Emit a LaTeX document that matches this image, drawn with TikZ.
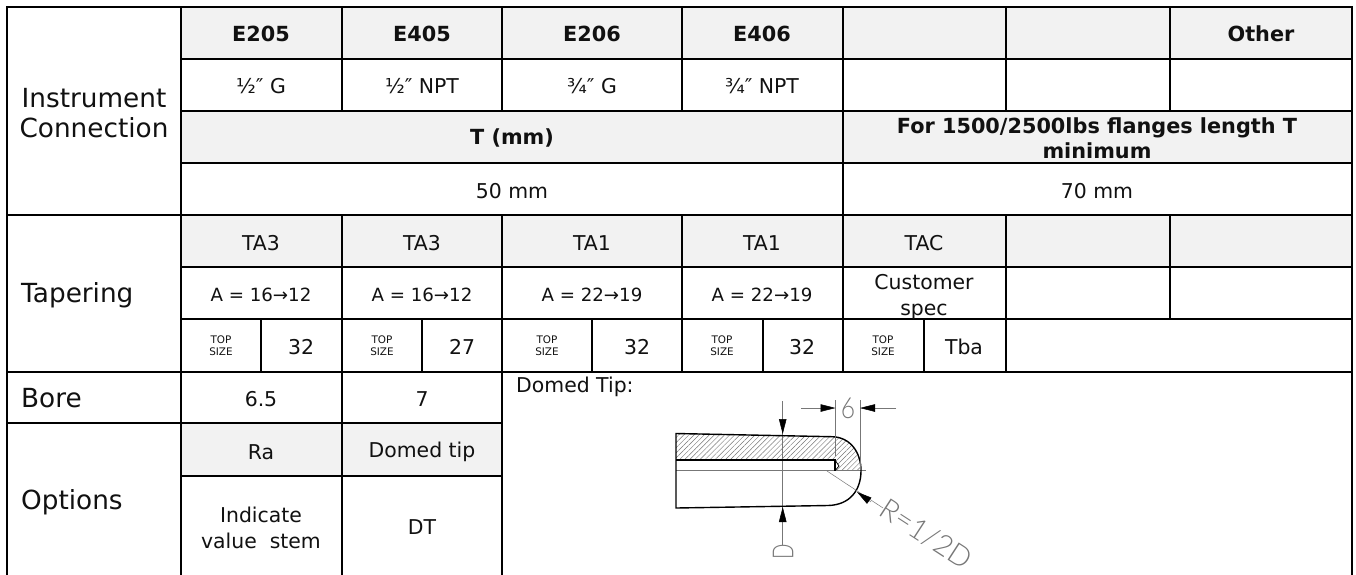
\documentclass[tikz,border=0pt]{standalone}
\usepackage{fontspec}
\setmainfont{DejaVu Sans}
\newfontfamily\cadfont{Lato Light}
\usetikzlibrary{patterns.meta,arrows.meta}
\definecolor{headgrey}{HTML}{F2F2F2}
\definecolor{cadgrey}{HTML}{777777}
\definecolor{inkblack}{HTML}{111111}
\tikzset{
  x=1pt,y=-1pt,
  cellhead/.style={fill=headgrey},
  rule/.style={line width=1.8pt,black,line cap=rect},
  txt/.style={font=\fontsize{20.4}{26}\selectfont,text=inkblack,align=center,inner sep=0pt},
  boldtxt/.style={txt,font=\fontsize{20.8}{24.5}\selectfont\bfseries},
  rowlabel/.style={txt,font=\fontsize{26.3}{30}\selectfont},
  smalltxt/.style={txt,font=\fontsize{18.2}{24}\selectfont},
  tinytxt/.style={txt,font=\fontsize{10.4}{12}\selectfont},
  dim/.style={line width=.5pt,cadgrey},
  dimtip/.style={-{Triangle[length=15pt,width=7.5pt,black]},line width=.5pt,cadgrey},
  body/.style={line width=1.4pt,black},
  cad/.style={cadgrey,inner sep=0pt,font=\cadfont\fontsize{29}{29}\selectfont},
}
\begin{document}
\begin{tikzpicture}
\useasboundingbox (0,0) rectangle (1356,574);
\fill[white] (0,0) rectangle (1356,574);
% header fills
\fill[cellhead] (181,7) rectangle (1352,59);
\fill[cellhead] (181,111) rectangle (1352,163);
\fill[cellhead] (181,215) rectangle (1352,267);
\fill[cellhead] (181,423) rectangle (502,476);
% domed tip drawing
\path[pattern={Lines[angle=45,distance=3.6pt,line width=.45pt]},pattern color=cadgrey]
   (676,433.5) -- (832,436.7) .. controls (850,437) and (861,452) .. (861,470.7)
   -- (835,470.7) -- (839,466) -- (835,460) -- (676,460) -- cycle;
\coordinate (dimtop) at (782.7,401);
\coordinate (dimbot) at (782.7,545);
\coordinate (clstart) at (676,470.7);
\coordinate (clend) at (866,470.7);
\draw[dim] (dimtop) -- (dimbot);
\draw[dim,line width=.7pt] (clstart) -- (clend);
\draw[body] (676,433.5) -- (832,436.7) .. controls (850,437) and (861,452) .. (861,470.7)
   .. controls (861,490) and (850,505) .. (828,505.5) -- (676,508) -- cycle;
\draw[body] (676,460) -- (835,460) -- (835,470.7);
\draw[body,line width=.8pt] (835,460) -- (839,466) -- (835,470.7);
\draw[dimtip] (782.7,419) -- (782.7,434);
\draw[dimtip] (782.7,524) -- (782.7,507);
\draw[dim] (835.5,400) -- (835.5,456);
\draw[dim] (860,400) -- (860,470);
\draw[dimtip] (801,408) -- (835.5,408);
\draw[dimtip] (896,408) -- (860,408);
\draw[dim] (827,471) -- (883,508);
\draw[dimtip] (871,502) -- (857,492);
\node[cad] (six) at (848,408.5) {\scalebox{.85}[1]{6}};
\node[cad,rotate=90] (dee) at (783,552) {\scalebox{.7}[1]{D}};
\node[cad,rotate=-33] (rad) at (926,534) {R=1/2D};
% rules
\draw[rule]
 (7,7) -- (1352,7) (181,59) -- (1352,59) (181,111) -- (1352,111) (181,163) -- (1352,163)
 (7,215) -- (1352,215) (181,267) -- (1352,267) (181,319) -- (1352,319)
 (7,372) -- (1352,372) (7,423) -- (502,423) (181,476) -- (502,476)
 (7,7) -- (7,574) (181,7) -- (181,574) (342,7) -- (342,111) (502,7) -- (502,111)
 (682,7) -- (682,111) (843,7) -- (843,372) (1006,7) -- (1006,111) (1170,7) -- (1170,111)
 (342,215) -- (342,372) (502,215) -- (502,574) (682,215) -- (682,372)
 (1006,215) -- (1006,372) (1170,215) -- (1170,319)
 (261,319) -- (261,372) (422,319) -- (422,372) (592,319) -- (592,372)
 (763,319) -- (763,372) (924,319) -- (924,372)
 (342,372) -- (342,574) (1352,7) -- (1352,574);
% row labels
\node[rowlabel] (l1) at (94,113) {Instrument\\Connection};
\node[rowlabel,anchor=west] (l2) at (21,295) {Tapering};
\node[rowlabel,anchor=west] (l3) at (21,398) {Bore};
\node[rowlabel,anchor=west] (l4) at (21,502) {Options};
% row 1
\node[boldtxt] (a1) at (261,34) {E205};
\node[boldtxt] (a2) at (422,34) {E405};
\node[boldtxt] (a3) at (592,34) {E206};
\node[boldtxt] (a4) at (762,34) {E406};
\node[boldtxt] (a5) at (1261,34) {Other};
% row 2
\node[txt] (b1) at (261,86) {½″ G};
\node[txt] (b2) at (422,86) {½″ NPT};
\node[txt] (b3) at (592,86) {¾″ G};
\node[txt] (b4) at (762,86) {¾″ NPT};
% row 3
\node[boldtxt] (c1) at (512,138) {T (mm)};
\node[boldtxt] (c2) at (1097,138) {For 1500/2500lbs flanges length T\\minimum};
% row 4
\node[txt] (d1) at (512,191) {50 mm};
\node[txt] (d2) at (1097,191) {70 mm};
% tapering
\node[txt] (e1) at (261,243) {TA3};
\node[txt] (e2) at (422,243) {TA3};
\node[txt] (e3) at (592,243) {TA1};
\node[txt] (e4) at (762,243) {TA1};
\node[txt] (e5) at (924,243) {TAC};
\node[smalltxt] (f1) at (261,295) {A = 16→12};
\node[smalltxt] (f2) at (422,295) {A = 16→12};
\node[smalltxt] (f3) at (592,295) {A = 22→19};
\node[smalltxt] (f4) at (762,295) {A = 22→19};
\node[txt] (f5) at (924,297) {Customer\\spec};
\node[tinytxt] (g1) at (221,346) {TOP\\SIZE};
\node[txt] (h1) at (301,347) {32};
\node[tinytxt] (g2) at (382,346) {TOP\\SIZE};
\node[txt] (h2) at (462,347) {27};
\node[tinytxt] (g3) at (547,346) {TOP\\SIZE};
\node[txt] (h3) at (637,347) {32};
\node[tinytxt] (g4) at (722,346) {TOP\\SIZE};
\node[txt] (h4) at (802,347) {32};
\node[tinytxt] (g5) at (883,346) {TOP\\SIZE};
\node[txt] (h5) at (964,347) {Tba};
% bore & options
\node[txt] (i1) at (261,399) {6.5};
\node[txt] (i2) at (422,399) {7};
\node[txt,anchor=west] (i3) at (516,387) {Domed Tip:};
\node[txt] (j1) at (261,452) {Ra};
\node[txt] (j2) at (422,452) {Domed tip};
\node[txt] (k1) at (261,528) {Indicate\\value\ \ stem};
\node[txt] (k2) at (422,527) {DT};
\end{tikzpicture}
\end{document}
